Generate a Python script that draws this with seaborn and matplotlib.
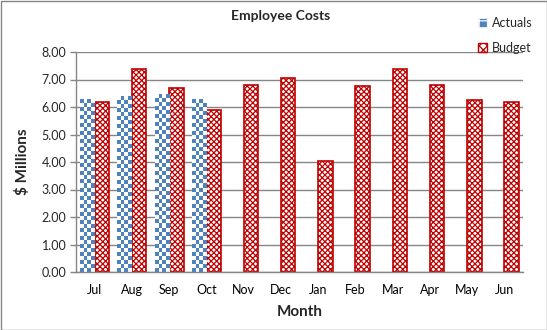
import matplotlib
matplotlib.use("Agg")
import matplotlib.pyplot as plt
from matplotlib.patches import Rectangle, Patch
from matplotlib.colors import ListedColormap
from matplotlib.ticker import FormatStrFormatter, FixedLocator
import seaborn as sns
import pandas as pd
import numpy as np

months = ["Jul", "Aug", "Sep", "Oct", "Nov", "Dec", "Jan", "Feb", "Mar", "Apr", "May", "Jun"]
actuals = [6.28, 6.39, 6.46, 6.28, np.nan, np.nan, np.nan, np.nan, np.nan, np.nan, np.nan, np.nan]
budget = [6.17, 7.39, 6.68, 5.88, 6.79, 7.04, 4.04, 6.75, 7.40, 6.79, 6.25, 6.17]
series = ["Actuals", "Budget"]
y_ticks = [0, 1, 2, 3, 4, 5, 6, 7, 8]

df = pd.DataFrame({
    "Month": months * 2,
    "Value": actuals + budget,
    "Series": [series[0]] * len(months) + [series[1]] * len(months),
})

sns.set_style("white")
plt.rcParams["font.family"] = ["Lato", "DejaVu Sans"]
plt.rcParams["hatch.linewidth"] = 0.9

blue = "#4F81BD"
red = "#C00000"

fig = plt.figure(figsize=(5.47, 3.30), dpi=100)
ax = fig.add_axes([76 / 547, 1 - 272 / 330, (523 - 76) / 547, (272 - 52) / 330])

sns.barplot(data=df, x="Month", y="Value", hue="Series", order=months,
            hue_order=series, palette=[blue, "white"], width=0.78,
            legend=False, ax=ax, saturation=1)

ax.set_ylim(0, 8)
ax.set_xlim(-0.5, len(months) - 0.5)

# Budget: dense red hatch on white with a red outline
for bar in ax.containers[1]:
    bar.set_facecolor("white")
    bar.set_edgecolor(red)
    bar.set_hatch("xxxxxx")
    bar.set_linewidth(1.2)

# Actuals: blue/white checkerboard fill clipped to each bar
checker_cmap = ListedColormap([blue, "white"])
px_per_x = ax.get_position().width * fig.get_figwidth() * fig.dpi / len(months)
px_per_y = ax.get_position().height * fig.get_figheight() * fig.dpi / 8
cell = 4.0
for bar in ax.containers[0]:
    h = bar.get_height()
    if not np.isfinite(h) or h <= 0:
        continue
    x0, w = bar.get_x(), bar.get_width()
    cols = max(1, int(round(w * px_per_x / cell)))
    rows = max(1, int(round(h * px_per_y / cell)))
    board = (np.add.outer(np.arange(rows), np.arange(cols)) % 2).astype(float)
    bar.set_facecolor(blue)
    bar.set_edgecolor("none")
    im = ax.imshow(board, cmap=checker_cmap, vmin=0, vmax=1, origin="lower",
                   extent=(x0, x0 + w, 0, h), interpolation="nearest",
                   aspect="auto", zorder=bar.get_zorder() + 0.1)
    im.set_clip_path(bar)

ax.set_ylim(0, 8)
ax.set_xlim(-0.5, len(months) - 0.5)
ax.yaxis.set_major_locator(FixedLocator(y_ticks))
ax.yaxis.set_major_formatter(FormatStrFormatter("%.2f"))
ax.grid(axis="y", color="#868686", linewidth=1.0)
ax.set_axisbelow(True)

for s in ["top", "right"]:
    ax.spines[s].set_visible(False)
for s in ["left", "bottom"]:
    ax.spines[s].set_color("#868686")
    ax.spines[s].set_linewidth(1.0)

n = len(months)
ax.set_xticks(range(n))
ax.set_xticklabels(months)
ax.set_xticks(np.arange(-0.5, n, 1.0), minor=True)
ax.tick_params(axis="x", which="major", length=0, pad=9, labelsize=9, colors="black")
ax.tick_params(axis="x", which="minor", length=5, color="#868686", width=1.0)
ax.tick_params(axis="y", which="major", length=4, color="#868686", width=1.0,
               labelsize=9, pad=3, left=True)

ax.set_xlabel("Month", fontsize=11, fontweight="bold", labelpad=6)
ax.set_ylabel("$ Millions", fontsize=11, fontweight="bold", labelpad=8)

fig.text(281 / 547, 1 - 16 / 330, "Employee Costs", ha="center", va="center",
         fontsize=10, fontweight="bold")

handles = [
    Patch(facecolor=blue, edgecolor="white", hatch="++", linewidth=0.5),
    Patch(facecolor="white", edgecolor=red, hatch="xxxx", linewidth=1.0),
]
fig.legend(handles, series, loc="upper left", bbox_to_anchor=(473 / 547, 1 - 12 / 330),
           frameon=False, fontsize=9, labelspacing=1.05, handlelength=0.7,
           handleheight=0.7, handletextpad=0.4, borderaxespad=0)

fig.patches.append(Rectangle((0.5 / 547, 0.5 / 330), 1 - 1 / 547, 1 - 1 / 330,
                             transform=fig.transFigure, fill=False,
                             edgecolor="#868686", linewidth=1.0))

fig.savefig("out.png", dpi=100)
